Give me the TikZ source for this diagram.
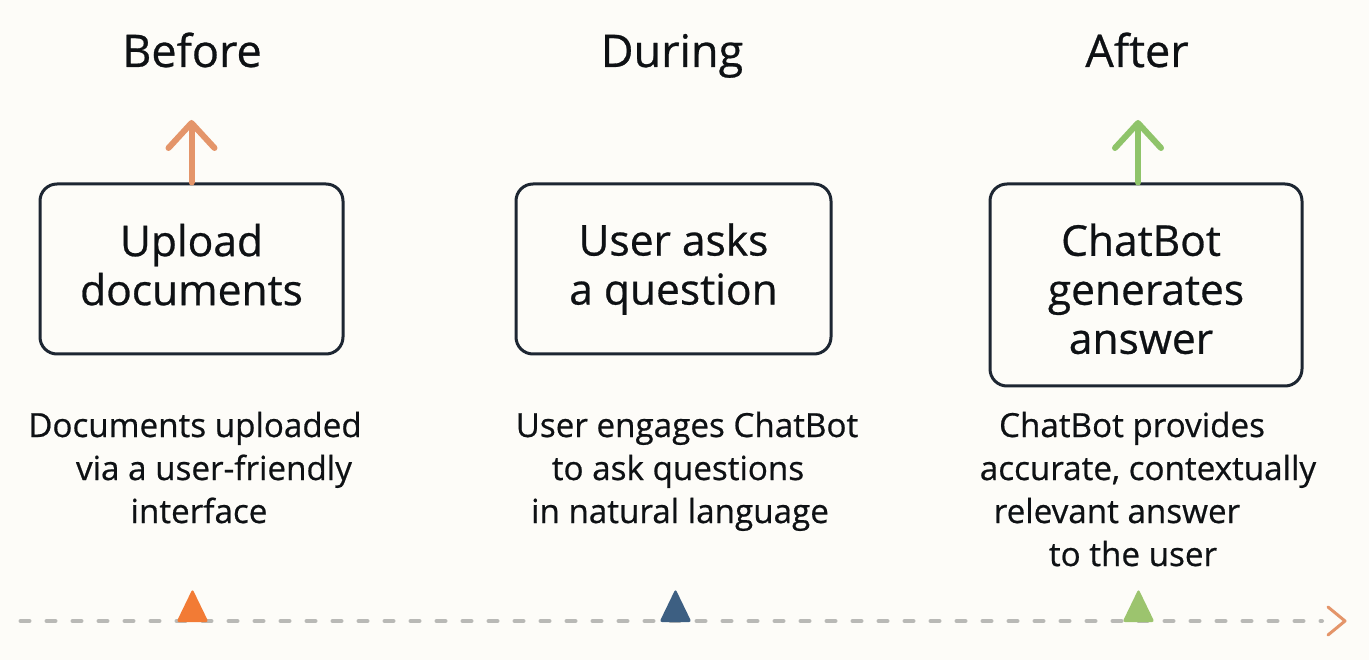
\documentclass[tikz,border=0pt]{standalone}
\usepackage{fontspec}
\setmainfont{Open Sans}[FakeBold=0.6]
\usetikzlibrary{arrows.meta,calc}
\definecolor{bgc}{HTML}{FDFCF8}
\definecolor{boxc}{HTML}{1D2632}
\definecolor{txtc}{HTML}{0E1114}
\definecolor{orarrow}{HTML}{E4956A}
\definecolor{grarrow}{HTML}{8FC46A}
\definecolor{ortri}{HTML}{F27B35}
\definecolor{bltri}{HTML}{3D5F82}
\definecolor{grtri}{HTML}{9CC46E}
\definecolor{tlgray}{HTML}{B9B9B6}
\tikzset{
  title/.style={anchor=base, text=txtc, font=\fontsize{45}{54}\selectfont, inner sep=0pt},
  stagebox/.style={draw=boxc, line width=3pt, rounded corners=17pt, fill=bgc,
    text=txtc, align=center, font=\fontsize{42.5}{49}\selectfont, inner sep=0pt},
  desc/.style={anchor=base, text=txtc, font=\fontsize{33.2}{43}\selectfont, inner sep=0pt},
  uparrow/.style={line width=6pt, line cap=round,
    -{Straight Barb[length=25pt, width=46pt, round]}},
  marker/.style={rounded corners=2.5pt},
  timeline/.style={tlgray, line width=4pt, line cap=round, dash pattern=on 9pt off 17pt},
  chev/.style={orarrow, line width=3pt, line cap=round, line join=round}
}
\begin{document}
\begin{tikzpicture}[x=1pt,y=-1pt]
\useasboundingbox[fill=bgc] (0,0) rectangle (1369,660);

% titles
\node[title] (t1) at (192,67) {Before};
\node[title] (t2) at (672,67) {During};
\node[title] (t3) at (1137,67) {After};

% boxes
\node[stagebox, minimum width=303pt, minimum height=170pt] (b1) at (191.5,269)
  {Upload\\documents\rule[-9pt]{0pt}{0pt}};
\node[stagebox, minimum width=315pt, minimum height=170pt] (b2) at (673.5,269)
  {User asks\\a question};
\node[stagebox, minimum width=312pt, minimum height=202pt] (b3) at (1146,285)
  {\rule{0pt}{40pt}ChatBot\hspace*{10pt}\\generates\hspace*{12pt}\\answer\hspace*{10pt}};

% arrows
\coordinate (a1) at (191.5,120);
\coordinate (a3) at (1138,120);
\draw[uparrow, orarrow] (b1.north) -- (a1);
\draw[uparrow, grarrow] (b3.north -| a3) -- (a3);

% descriptions
\node[desc] (d11) at (195,437) {Documents uploaded};
\node[desc] (d12) at (214,480) {via a user-friendly};
\node[desc] (d13) at (199,523) {interface};

\node[desc] (d21) at (687,437) {User engages ChatBot};
\node[desc] (d22) at (678,480) {to ask questions};
\node[desc] (d23) at (680,523) {in natural language};

\node[desc] (d31) at (1132,437) {ChatBot provides};
\node[desc] (d32) at (1148,480) {accurate, contextually};
\node[desc] (d33) at (1117,523) {relevant answer};
\node[desc] (d34) at (1133,566) {to the user};

% timeline
\coordinate (tl0) at (20.5,621);
\coordinate (tl1) at (1322,621);
\coordinate (tlend) at (1345,621);
\draw[timeline] (tl0) -- (tl1);
\draw[chev] ($(tlend)+(-17,-14)$) -- (tlend) -- ($(tlend)+(-17,14)$);

% markers
\fill[marker, ortri] (176.5,622) -- (192.5,589) -- (208.5,622) -- cycle;
\fill[marker, bltri] (659.5,622) -- (675.5,589) -- (691.5,622) -- cycle;
\fill[marker, grtri] (1122.5,622) -- (1138.5,589) -- (1154.5,622) -- cycle;
\end{tikzpicture}
\end{document}
